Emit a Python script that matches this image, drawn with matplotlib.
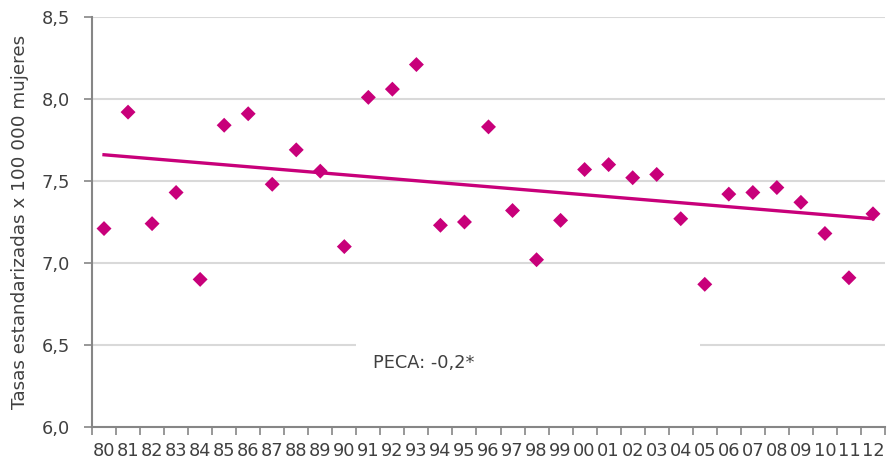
import numpy as np
import matplotlib
matplotlib.use("agg")
import matplotlib.pyplot as plt
from matplotlib.patches import Rectangle

plt.rcParams.update({"font.family": ["DejaVu Sans"]})

# ---- data ----
years = ["80", "81", "82", "83", "84", "85", "86", "87", "88", "89", "90",
         "91", "92", "93", "94", "95", "96", "97", "98", "99", "00", "01",
         "02", "03", "04", "05", "06", "07", "08", "09", "10", "11", "12"]
rates = [7.21, 7.92, 7.24, 7.43, 6.90, 7.84, 7.91, 7.48, 7.69, 7.56, 7.10,
         8.01, 8.06, 8.21, 7.23, 7.25, 7.83, 7.32, 7.02, 7.26, 7.57, 7.60,
         7.52, 7.54, 7.27, 6.87, 7.42, 7.43, 7.46, 7.37, 7.18, 6.91, 7.30]
trend_ends = [7.66, 7.27]          # fitted trend at 80 and at 12
y_ticks = [6.0, 6.5, 7.0, 7.5, 8.0, 8.5]
y_labels = ["6,0", "6,5", "7,0", "7,5", "8,0", "8,5"]
peca_label = "PECA: -0,2*"

MAG = "#C8007A"
GRID = "#D9D9D9"
AX = "#868686"
TXT = "#404040"

x = np.arange(len(years))

fig = plt.figure(figsize=(8.89, 4.63), dpi=100)
ax = fig.add_axes([92 / 889, 1 - 427 / 463, 793 / 889, 410 / 463])

for v in y_ticks[1:]:
    ax.axhline(v, color=GRID, lw=1.5, zorder=0)

ax.plot([x[0], x[-1]], trend_ends, color=MAG, lw=2.4, zorder=2)
ax.scatter(x, rates, marker="D", s=58, color=MAG, edgecolor="none", zorder=3)

# white text box covering the 6,5 gridline
ax.add_patch(Rectangle((0.333, 0.08), 0.434, 0.155, transform=ax.transAxes,
                       facecolor="white", edgecolor="none", zorder=1))
ax.text(0.354, 0.157, peca_label, transform=ax.transAxes, fontsize=12.8,
        color=TXT, ha="left", va="center", zorder=4)

ax.set_xlim(-0.5, len(years) - 0.5)
ax.set_ylim(6.0, 8.5)
ax.set_yticks(y_ticks)
ax.set_yticklabels(y_labels, fontsize=12.8, color=TXT)
ax.set_xticks(x)
ax.set_xticklabels(years, fontsize=12.8, color=TXT)
ax.set_xticks(np.arange(len(years) + 1) - 0.5, minor=True)
ax.tick_params(axis="x", which="major", length=0, pad=11)
ax.tick_params(axis="x", which="minor", length=6, width=1.2, color=AX)
ax.tick_params(axis="y", length=6, width=1.2, color=AX, pad=10)
ax.set_ylabel("Tasas estandarizadas x 100 000 mujeres", fontsize=13.2,
              color=TXT, labelpad=9)

for s in ("top", "right"):
    ax.spines[s].set_visible(False)
for s in ("left", "bottom"):
    ax.spines[s].set_color(AX)
    ax.spines[s].set_linewidth(1.5)

fig.savefig("out.png", dpi=100)
